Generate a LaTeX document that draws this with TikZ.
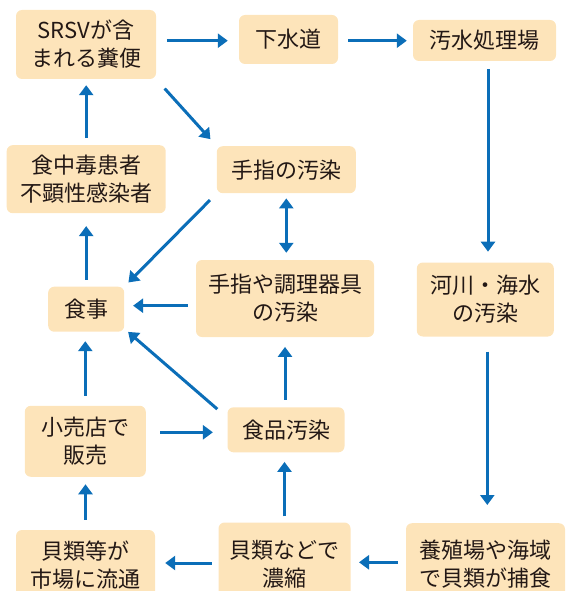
\documentclass[tikz,border=0pt]{standalone}
\usepackage{fontspec}
\setmainfont{Noto Sans CJK JP}
\usetikzlibrary{arrows.meta,calc}
\definecolor{boxc}{HTML}{FDE4BA}
\definecolor{arrc}{HTML}{0B6EB8}
\definecolor{txtc}{HTML}{231815}
\begin{document}
\begin{tikzpicture}[x=1pt,y=-1pt,
 box/.style={fill=boxc, rounded corners=6pt, align=center, text=txtc, inner sep=0pt, font=\fontsize{22}{28}\selectfont},
 sz/.style 2 args={minimum width=#1, minimum height=#2},
 arr/.style={draw=arrc, line width=3pt, -{Triangle[width=14pt,length=10pt]}},
 darr/.style={draw=arrc, line width=3pt, {Triangle[width=14pt,length=10pt]}-{Triangle[width=14pt,length=10pt]}}]
\useasboundingbox (0,0) rectangle (566,591);
\clip (0,0) rectangle (566,591);
\node[box,sz={140pt}{69pt}] (A) at (86,44.5) {SRSVが含\\まれる糞便};
\node[box,sz={99pt}{49pt}] (B) at (288.5,39.5) {下水道};
\node[box,sz={143pt}{41pt}] (C) at (484.5,40.5) {汚水処理場};
\node[box,sz={159pt}{68pt}] (D) at (86.2,179.2) {食中毒患者\\不顕性感染者};
\node[box,sz={139pt}{47pt}] (E) at (286.3,169.7) {手指の汚染};
\node[box,sz={76pt}{45pt}] (F) at (86.2,309.2) {食事};
\node[box,sz={178pt}{77pt}] (G) at (285,298.5) {手指や調理器具\\の汚染};
\node[box,sz={137pt}{74pt}] (H) at (485.3,299.5) {河川・海水\\の汚染};
\node[box,sz={121pt}{71pt}] (I) at (85.3,441.3) {小売店で\\販売};
\node[box,sz={117pt}{45pt}] (J) at (286,429.8) {食品汚染};
\node[box,sz={139pt}{70pt}] (K) at (85.5,565) {貝類等が\\市場に流通};
\node[box,sz={132pt}{83pt}] (L) at (284.5,564) {貝類などで\\濃縮};
\node[box,sz={159pt}{81pt}] (M) at (485.5,563.7) {養殖場や海域\\で貝類が捕食};
% top row
\draw[arr,shorten <=10.7pt,shorten >=11pt] (A.east |- 0,40.7) -- (B.west |- 0,40.7);
\draw[arr,shorten <=10pt,shorten >=6pt] (B.east |- 0,40.7) -- (C.west |- 0,40.7);
\draw[arr,shorten <=8pt,shorten >=10.6pt] ($(C.south)+(3.5,0)$) -- ($(H.north)+(2.7,0)$);
\draw[arr,shorten <=15pt,shorten >=18pt] ($(H.south)+(2,0)$) -- ($(M.north)+(1.8,0)$);
% bottom row
\draw[arr,shorten <=8pt,shorten >=8.3pt] (M.west |- 0,562.3) -- (L.east |- 0,562.3);
\draw[arr,shorten <=6.6pt,shorten >=10pt] (L.west |- 0,563) -- (K.east |- 0,563);
\draw[arr,shorten <=10pt,shorten >=7.3pt] (K.north) -- (K.north |- I.south);
\draw[arr,shorten <=6pt,shorten >=9.4pt] (L.north) -- (L.north |- J.south);
% middle
\draw[arr,shorten <=14.3pt,shorten >=14.4pt] (I.east |- 0,432.3) -- (J.west |- 0,432.3);
\draw[arr,shorten <=10pt,shorten >=9.3pt] (I.north) -- (I.north |- F.south);
\draw[arr,shorten <=7.3pt,shorten >=9.7pt] (G.south |- J.north) -- (G.south);
\draw[arr] ($(J.north west)+(-10,2)$) -- ($(F.south east)+(3.7,0)$);
\draw[arr,shorten <=8pt,shorten >=8.7pt] (G.west |- 0,305.7) -- (F.east |- 0,305.7);
\draw[darr,shorten <=5pt,shorten >=7pt] (E.south) -- (E.south |- G.north);
\draw[arr,shorten <=9.5pt,shorten >=5.7pt] (E.south west) -- (F.north east);
\draw[arr,shorten <=6.7pt,shorten >=12.7pt] (F.north) -- (F.north |- D.south);
\draw[arr,shorten <=7pt,shorten >=6pt] (D.north) -- (D.north |- A.south);
\draw[arr,shorten <=12.6pt,shorten >=9.2pt] (A.south east) -- (E.north west);
\end{tikzpicture}
\end{document}
